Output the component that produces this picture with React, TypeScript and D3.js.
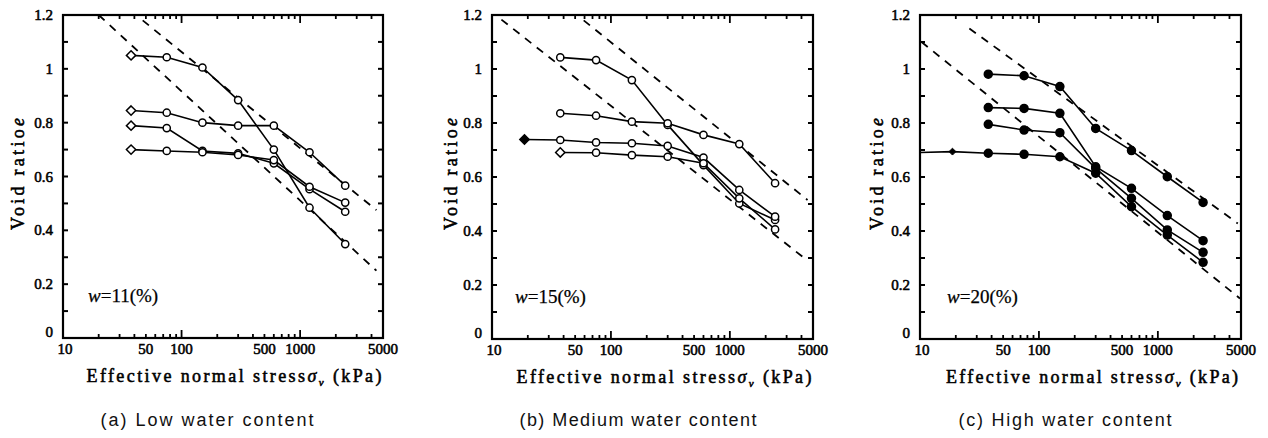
import React from "react";
import * as d3 from "d3";

// ---------- data ----------
const STRESS = [37.5, 75, 150, 300, 600, 1200, 2400];
const STRESS_B3 = [18.75, 37.5, 75, 150, 300, 600, 1200, 2400];
const STRESS_C4 = [10, 18.75, 37.5, 75, 150, 300, 600, 1200, 2400];

const A1 = [1.05, 1.043, 1.005, 0.884, 0.7, 0.484, 0.349];
const A2 = [0.845, 0.837, 0.8, 0.789, 0.789, 0.69, 0.566];
const A3 = [0.789, 0.78, 0.695, 0.686, 0.649, 0.553, 0.469];
const A4 = [0.7, 0.695, 0.69, 0.68, 0.661, 0.562, 0.503];

const B1 = [1.043, 1.033, 0.959, 0.793, 0.644, 0.502, 0.441];
const B2 = [0.836, 0.827, 0.805, 0.799, 0.756, 0.722, 0.577];
const B3 = [0.739, 0.737, 0.728, 0.725, 0.715, 0.672, 0.552, 0.453];
const B4 = [0.691, 0.69, 0.681, 0.675, 0.651, 0.521, 0.406];

const C1 = [0.981, 0.975, 0.935, 0.78, 0.698, 0.601, 0.506];
const C2 = [0.857, 0.854, 0.836, 0.638, 0.558, 0.457, 0.364];
const C3 = [0.795, 0.774, 0.764, 0.632, 0.521, 0.404, 0.321];
const C4 = [0.691, 0.694, 0.688, 0.684, 0.675, 0.614, 0.49, 0.385, 0.284];

// dashed reference lines: [stress, e] endpoints
const DASH_A = [[[20, 1.2], [4400, 0.25]], [[47, 1.18], [4400, 0.475]]];
const DASH_B = [[[12, 1.183], [4500, 0.29]], [[59, 1.18], [4500, 0.515]]];
const DASH_C = [[[10.3, 1.1], [4900, 0.15]], [[26, 1.15], [4700, 0.428]]];

const Y_TICKS = [0, 0.2, 0.4, 0.6, 0.8, 1, 1.2];
const Y_TICK_LABELS = ["0", "0.2", "0.4", "0.6", "0.8", "1", "1.2"];
const Y_MINOR = [0.1, 0.3, 0.5, 0.7, 0.9, 1.1];
const X_LABEL_TICKS = [10, 50, 100, 500, 1000, 5000];
const X_MINOR = [20, 30, 40, 50, 60, 70, 80, 90, 200, 300, 400, 500, 600, 700, 800, 900, 2000, 3000, 4000];
const X_MAJOR = [100, 1000];

const W_LABELS = ["11", "15", "20"];
const CAPTIONS = ["(a) Low water content", "(b) Medium water content", "(c) High water content"];

type Series = { x: number[]; y: number[]; filled: boolean; firstDiamond: boolean; firstFilled?: boolean; noFirstMarker?: boolean };

const PANELS = [
  {
    box: { left: 63, right: 383, top: 15, bottom: 338 },
    series: [
      { x: STRESS, y: A1, filled: false, firstDiamond: true },
      { x: STRESS, y: A2, filled: false, firstDiamond: true },
      { x: STRESS, y: A3, filled: false, firstDiamond: true },
      { x: STRESS, y: A4, filled: false, firstDiamond: true },
    ] as Series[],
    dash: DASH_A,
    w: W_LABELS[0],
    caption: CAPTIONS[0],
    captionW: 213,
    yLabelX: 18,
    xLabelW: 295,
    xLabelCx: 234,
    captionCx: 207,
    wX: 88,
  },
  {
    box: { left: 492, right: 813, top: 15, bottom: 339 },
    series: [
      { x: STRESS, y: B1, filled: false, firstDiamond: false },
      { x: STRESS, y: B2, filled: false, firstDiamond: false },
      { x: STRESS_B3, y: B3, filled: false, firstDiamond: true, firstFilled: true },
      { x: STRESS, y: B4, filled: false, firstDiamond: true },
    ] as Series[],
    dash: DASH_B,
    w: W_LABELS[1],
    caption: CAPTIONS[1],
    captionW: 237,
    yLabelX: 451,
    xLabelW: 295,
    xLabelCx: 664,
    captionCx: 638,
    wX: 515,
  },
  {
    box: { left: 920, right: 1241, top: 15, bottom: 339 },
    series: [
      { x: STRESS, y: C1, filled: true, firstDiamond: false },
      { x: STRESS, y: C2, filled: true, firstDiamond: false },
      { x: STRESS, y: C3, filled: true, firstDiamond: false },
      { x: STRESS_C4, y: C4, filled: true, firstDiamond: false, noFirstMarker: true },
    ] as Series[],
    dash: DASH_C,
    w: W_LABELS[2],
    caption: CAPTIONS[2],
    captionW: 213,
    yLabelX: 877,
    xLabelW: 292,
    xLabelCx: 1092,
    captionCx: 1065,
    wX: 947,
  },
];

const SERIF = "Liberation Serif";
const SANS = "Liberation Sans";
// faux-bold serif (stroke) for the bold Times-like text
const BOLD = { fontFamily: SERIF, stroke: "#000", strokeWidth: 0.55, fill: "#000" } as const;

function Panel({ p }: { p: (typeof PANELS)[number] }) {
  const { left, right, top, bottom } = p.box;
  const x = d3.scaleLog().domain([10, 5000]).range([left, right]);
  const y = d3.scaleLinear().domain([0, 1.2]).range([bottom, top]);
  const line = d3
    .line<[number, number]>()
    .x((d) => x(d[0]))
    .y((d) => y(d[1]));
  const diamond = d3.symbol().type(d3.symbolDiamond2).size(55)();
  const diamondSmall = d3.symbol().type(d3.symbolDiamond2).size(30)();

  return (
    <g>
      {/* dashed lines */}
      {p.dash.map((seg, i) => (
        <path
          key={"d" + i}
          d={line(seg as [number, number][]) || ""}
          fill="none"
          stroke="#000"
          strokeWidth={1.8}
          strokeDasharray="8,7"
        />
      ))}
      {/* series */}
      {p.series.map((s, i) => {
        const pts = s.x.map((v, j) => [v, s.y[j]] as [number, number]);
        return (
          <g key={"s" + i}>
            <path d={line(pts) || ""} fill="none" stroke="#000" strokeWidth={1.6} />
            {pts.map((d, j) => {
              if (j === 0 && s.noFirstMarker) return null;
              const cx = x(d[0]);
              const cy = y(d[1]);
              if (j === 0 && s.firstDiamond) {
                return (
                  <path
                    key={j}
                    d={diamond || ""}
                    transform={`translate(${cx},${cy})`}
                    fill={s.firstFilled || s.filled ? "#000" : "#fff"}
                    stroke="#000"
                    strokeWidth={1.5}
                  />
                );
              }
              if (s.noFirstMarker && j === 1) {
                return (
                  <path key={j} d={diamondSmall || ""} transform={`translate(${cx},${cy})`} fill="#000" stroke="#000" strokeWidth={1} />
                );
              }
              return (
                <circle
                  key={j}
                  cx={cx}
                  cy={cy}
                  r={s.filled ? 4 : 3.6}
                  fill={s.filled ? "#000" : "#fff"}
                  stroke="#000"
                  strokeWidth={1.5}
                />
              );
            })}
          </g>
        );
      })}
      {/* frame */}
      <rect x={left} y={top} width={right - left} height={bottom - top} fill="none" stroke="#000" strokeWidth={2.2} />
      {/* y ticks */}
      {Y_TICKS.concat(Y_MINOR).map((t, i) => (
        <g key={"yt" + i}>
          <line x1={left} x2={left + 5} y1={y(t)} y2={y(t)} stroke="#000" strokeWidth={2} />
          <line x1={right} x2={right - 5} y1={y(t)} y2={y(t)} stroke="#000" strokeWidth={2} />
        </g>
      ))}
      {Y_TICKS.map((t, i) => (
        <text
          key={"yl" + i}
          x={left - 10}
          y={t === 0 ? y(t) - 1 : y(t) + 5}
          textAnchor="end"
          fontSize={15}
          {...BOLD}
        >
          {Y_TICK_LABELS[i]}
        </text>
      ))}
      {/* x ticks */}
      {X_MINOR.map((t, i) => (
        <g key={"xm" + i}>
          <line x1={x(t)} x2={x(t)} y1={bottom} y2={bottom - 4} stroke="#000" strokeWidth={1.8} />
          <line x1={x(t)} x2={x(t)} y1={top} y2={top + 4} stroke="#000" strokeWidth={1.8} />
        </g>
      ))}
      {X_MAJOR.map((t, i) => (
        <g key={"xM" + i}>
          <line x1={x(t)} x2={x(t)} y1={bottom} y2={bottom - 8} stroke="#000" strokeWidth={1.8} />
          <line x1={x(t)} x2={x(t)} y1={top} y2={top + 8} stroke="#000" strokeWidth={1.8} />
        </g>
      ))}
      {X_LABEL_TICKS.map((t, i) => (
        <text
          key={"xl" + i}
          x={x(t) + (t === 10 ? 2 : 0)}
          y={bottom + 16}
          textAnchor="middle"
          fontSize={15}
          {...BOLD}
        >
          {t}
        </text>
      ))}
      {/* axis titles */}
      <text
        transform={`translate(${p.yLabelX + 6},${174}) rotate(-90)`}
        textAnchor="middle"
        fontSize={18}
        textLength={112}
        lengthAdjust="spacing"
        {...BOLD}
      >
        Void ratio<tspan fontStyle="italic">e</tspan>
      </text>
      <text
        x={p.xLabelCx}
        y={bottom + 44}
        textAnchor="middle"
        fontSize={18}
        textLength={p.xLabelW}
        lengthAdjust="spacing"
        {...BOLD}
      >
        Effective normal stress<tspan fontStyle="italic">σ</tspan>
        <tspan fontSize={11} dy={4} fontStyle="italic">v</tspan>
        <tspan dy={-4}> (kPa)</tspan>
      </text>
      <text x={p.wX} y={bottom - 36} fontFamily={SERIF} fontSize={19} stroke="#000" strokeWidth={0.25}>
        <tspan fontStyle="italic">w</tspan>={p.w}(%)
      </text>
      <text
        x={p.captionCx}
        y={426}
        textAnchor="middle"
        fontFamily={SANS}
        fontSize={18}
        textLength={p.captionW}
        lengthAdjust="spacing"
        fill="#111"
      >
        {p.caption}
      </text>
    </g>
  );
}

export default function App() {
  return (
    <svg
      width={1268}
      height={438}
      viewBox="0 0 1268 438"
      style={{ position: "absolute", left: 0, top: 0, background: "#fff" }}
    >
      <rect x={0} y={0} width={1268} height={438} fill="#fff" />
      {PANELS.map((p, i) => (
        <Panel key={i} p={p} />
      ))}
    </svg>
  );
}
